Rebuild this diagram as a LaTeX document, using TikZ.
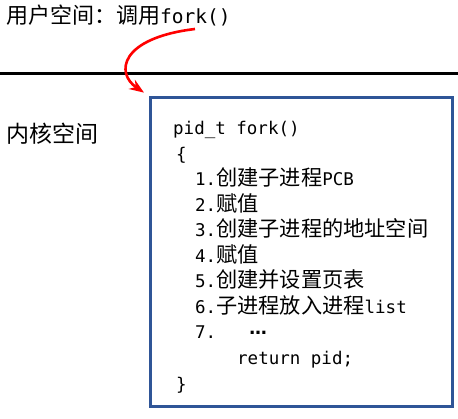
\documentclass[tikz,border=0pt]{standalone}
\usepackage{fontspec}
\setmainfont{DejaVu Sans Mono}
\newfontfamily\cjk{Noto Sans CJK SC}
\newfontfamily\symfont{DejaVu Sans}
\usetikzlibrary{positioning, arrows.meta, calc}
\definecolor{kernelblue}{HTML}{2F5597}
\definecolor{callred}{HTML}{FF0000}
\newcommand{\zh}[1]{{\fontsize{21.2}{25.5}\selectfont\cjk #1}}

\begin{document}
\begin{tikzpicture}[
  x=1pt, y=1pt, >=Stealth,
  code/.style={anchor=base west, inner sep=0pt, font=\fontsize{17.5}{25.5}\selectfont},
  title/.style={anchor=base west, inner sep=0pt},
  kbox/.style={draw=kernelblue, line width=3pt, minimum width=301.5pt, minimum height=309pt, inner sep=0pt},
  callarr/.style={->, line width=2.6pt, callred, shorten >=6pt}
]
\useasboundingbox (0,0) rectangle (458,418);
% user / kernel split
\node[title, font=\fontsize{22}{26}\selectfont\cjk] (user) at (6,394) {用户空间：调用{\fontsize{19.5}{26}\selectfont\rmfamily fork()}};
\coordinate (splitl) at (0,344.5);
\coordinate (splitr) at (458,344.5);
\draw[line width=3pt] (splitl) -- (splitr);
\node[title, font=\fontsize{23}{26}\selectfont\cjk] (kernel) at (6,275) {内核空间};
% fork body
\node[kbox] (kbox) at (301.25,166) {};
\node[code] (l1) at (173,283) {pid\_t fork()};
\node[code] (l2) at (176,257.5) {\{};
\node[code] (l3) at (195,232) {1.\zh{创建子进程}PCB};
\node[code] (l4) at (195,206.5) {2.\zh{赋值}};
\node[code] (l5) at (195,181) {3.\zh{创建子进程的地址空间}};
\node[code] (l6) at (195,155.5) {4.\zh{赋值}};
\node[code] (l7) at (195,130) {5.\zh{创建并设置页表}};
\node[code] (l8) at (195,104.5) {6.\zh{子进程放入进程}list};
\node[code] (l9) at (195,79) {7.\hspace{33pt}\raisebox{4pt}{\symfont\bfseries …}};
\node[code] (l10) at (237,53.5) {return pid;};
\node[code] (l11) at (176,28) {\}};
% call into kernel
\coordinate (call) at (195,389);
\draw[callarr] (call) .. controls (120,380) and (115,345) .. (kbox.north west);
\end{tikzpicture}
\end{document}
